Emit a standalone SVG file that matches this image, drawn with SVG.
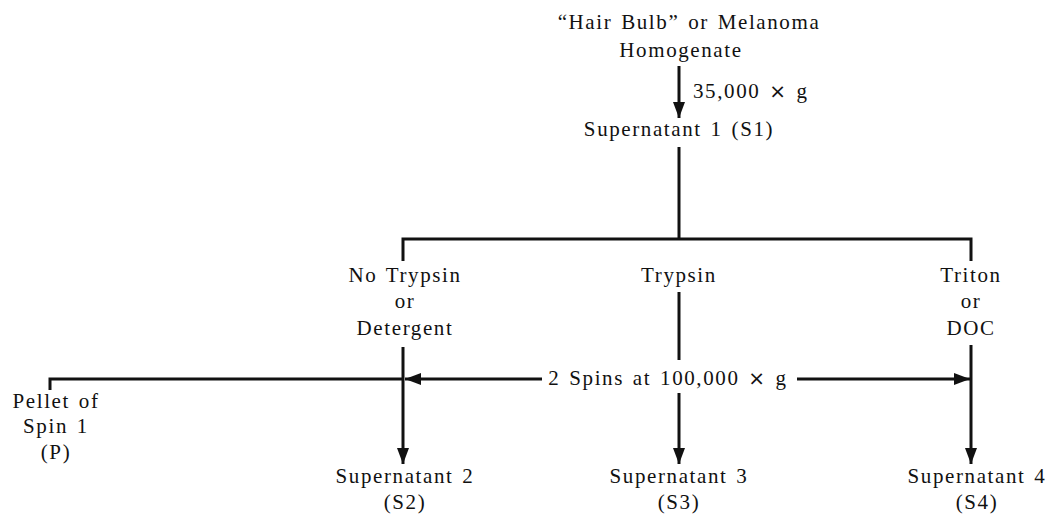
<svg xmlns="http://www.w3.org/2000/svg" width="1054" height="515" viewBox="0 0 1054 515">
<style>
text{font-family:"Liberation Serif","Times New Roman",serif;font-size:21px;fill:#111;text-anchor:middle;letter-spacing:1.6px;word-spacing:2px}
.x{font-family:"DejaVu Sans",sans-serif;font-size:20px}
.ln{stroke:#111;stroke-width:3;fill:none}
</style>
<defs>
<marker id="ah" markerUnits="userSpaceOnUse" markerWidth="18" markerHeight="12" refX="16" refY="6" orient="auto">
<path d="M0,0 L16,6 L0,12 Z" fill="#111"/>
</marker>
</defs>
<rect width="1054" height="515" fill="#fff"/>
<g id="connectors">
<path class="ln" d="M679,66 V118" marker-end="url(#ah)"/>
<path class="ln" d="M679,147 V239"/>
<path class="ln" d="M403,261 V239 H971 V261"/>
<path class="ln" d="M679,292 V360"/>
<path class="ln" d="M679,393 V464" marker-end="url(#ah)"/>
<path class="ln" d="M403,347 V464" marker-end="url(#ah)"/>
<path class="ln" d="M971,345 V464" marker-end="url(#ah)"/>
<path class="ln" d="M542,379 H405" marker-end="url(#ah)"/>
<path class="ln" d="M797,379 H970" marker-end="url(#ah)"/>
<path class="ln" d="M403,379 H50 V390"/>
</g>
<g id="homogenate">
<text x="689" y="29">“Hair Bulb” or Melanoma</text>
<text x="681" y="57">Homogenate</text>
</g>
<g id="g35000"><text x="693" y="98" style="text-anchor:start">35,000 <tspan class="x">×</tspan> g</text></g>
<g id="s1"><text x="679" y="136">Supernatant 1 (S1)</text></g>
<g id="notrypsin">
<text x="405" y="282">No Trypsin</text>
<text x="405" y="308">or</text>
<text x="405" y="335">Detergent</text>
</g>
<g id="trypsin"><text x="679" y="282">Trypsin</text></g>
<g id="triton">
<text x="971" y="282">Triton</text>
<text x="971" y="308">or</text>
<text x="971" y="335">DOC</text>
</g>
<g id="spins"><text x="668" y="385">2 Spins at 100,000 <tspan class="x">×</tspan> g</text></g>
<g id="pellet">
<text x="56" y="408">Pellet of</text>
<text x="56" y="433">Spin 1</text>
<text x="56" y="459">(P)</text>
</g>
<g id="s2">
<text x="405" y="483">Supernatant 2</text>
<text x="405" y="509">(S2)</text>
</g>
<g id="s3">
<text x="679" y="483">Supernatant 3</text>
<text x="679" y="509">(S3)</text>
</g>
<g id="s4">
<text x="977" y="483">Supernatant 4</text>
<text x="977" y="509">(S4)</text>
</g>
</svg>
